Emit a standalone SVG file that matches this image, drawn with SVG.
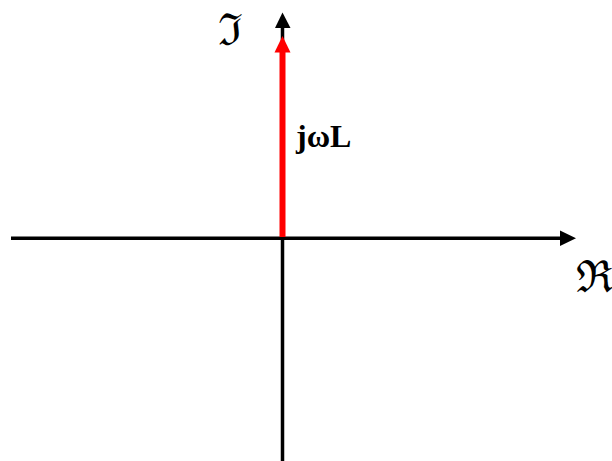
<svg xmlns="http://www.w3.org/2000/svg" width="612" height="461" viewBox="0 0 612 461">
<style>
.ax{stroke:#000;stroke-width:3.5;fill:none}
.sym{font-family:"DejaVu Serif","Liberation Serif",serif;font-size:44px;fill:#000}
.lbl{font-family:"Liberation Serif",serif;font-weight:bold;font-size:32px;fill:#000}
</style>
<rect width="612" height="461" fill="#fff"/>
<g id="connectors">
<line class="ax" x1="11" y1="238.3" x2="562" y2="238.3"/>
<polygon points="576,238.3 560,230.5 560,246" fill="#000"/>
<line class="ax" x1="282.5" y1="461" x2="282.5" y2="26"/>
<polygon points="282.5,12.5 275,28 290.5,28" fill="#000"/>
<line stroke="#f00" stroke-width="6" x1="282.5" y1="237" x2="282.5" y2="50"/>
<polygon points="282.5,36 274.5,52.5 290.5,52.5" fill="#f00"/>
</g>
<g id="imag-label"><text class="sym" x="218" y="45">ℑ</text></g>
<g id="real-label"><text class="sym" x="576" y="292">ℜ</text></g>
<g id="jwl-label"><text class="lbl" x="296" y="146.7">jωL</text></g>
</svg>
